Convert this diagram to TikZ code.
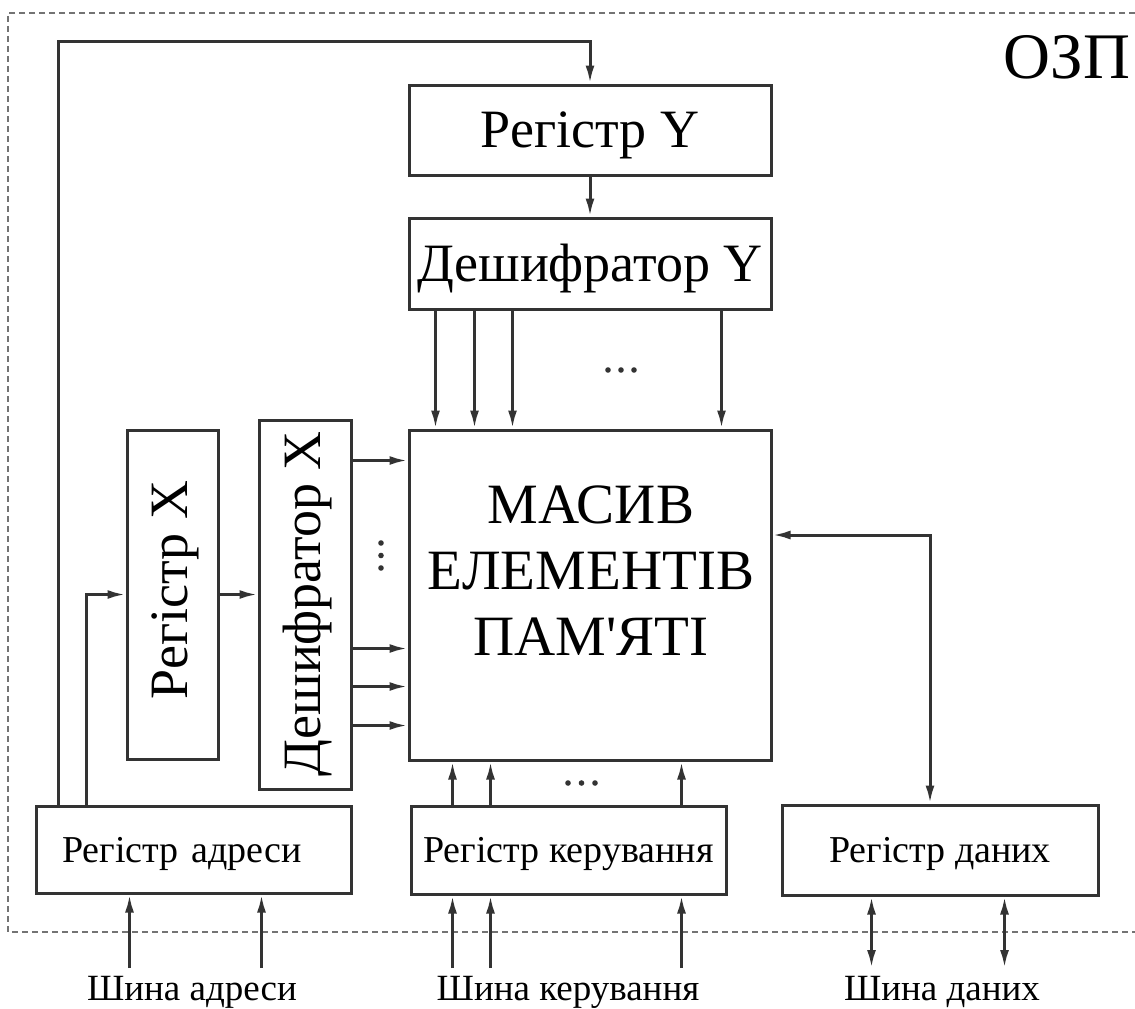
\documentclass[tikz,border=0pt]{standalone}
\usepackage{fontspec}
\setmainfont{Liberation Serif}
\usetikzlibrary{arrows.meta}

\begin{document}
\begin{tikzpicture}[x=1pt, y=-1pt, line width=3pt, color=black!80, text=black,
    box/.style={draw, inner sep=0pt},
    lbl/.style={inner sep=0pt},
    arr/.style={-{Latex[length=18pt, width=9pt]}},
    dblarr/.style={{Latex[length=18pt, width=9pt]}-{Latex[length=18pt, width=9pt]}},
    bigfont/.style={font=\fontsize{54}{60}\selectfont, text height=35.5pt, text depth=0pt},
    midfont/.style={font=\fontsize{38}{42}\selectfont, text height=25pt, text depth=0pt},
    smallfont/.style={font=\fontsize{37}{42}\selectfont, text height=24.5pt, text depth=0pt}]
        \useasboundingbox (0,0) rectangle (1135,1009);

        % Border of the memory unit
        \draw[line width=1.4pt, black!55, dash pattern=on 6pt off 4pt]
            (1135,13) -- (8,13) -- (8,932) -- (1135,932);
        \node[lbl, font=\fontsize{65}{70}\selectfont, text height=43pt, text depth=0pt] (ozp) at (1067,56.5) {ОЗП};

        % Blocks
        \node[box, bigfont, minimum width=362pt, minimum height=90pt] (regY) at (590,130) {Регістр Y};
        \node[box, bigfont, minimum width=362pt, minimum height=91pt] (decY) at (590,263.5) {Дешифратор Y};
        \node[box, minimum width=362pt, minimum height=330pt] (mem) at (590,595) {};
        \node[font=\fontsize{57}{66}\selectfont, align=center] (memtxt) at (591,571)
            {МАСИВ\\ЕЛЕМЕНТІВ\\ПАМ\textquotesingle ЯТІ};
        \node[box, minimum width=91pt, minimum height=329pt] (regX) at (172.5,594.5) {};
        \node[lbl, bigfont, rotate=90] (regXtxt) at (170,590) {Регістр X};
        \node[box, minimum width=92pt, minimum height=369pt] (decX) at (305,604.5) {};
        \node[lbl, bigfont, rotate=90] (decXtxt) at (303,604) {Дешифратор X};
        \node[box, midfont, minimum height=87pt, inner xsep=26pt, text width=263pt, align=left] (regA) at (193.5,849.5) {Регістр адреси};
        \node[box, midfont, minimum width=315pt, minimum height=88pt] (regK) at (568.5,850) {Регістр керування};
        \node[box, midfont, minimum width=316pt, minimum height=90pt] (regD) at (940,850) {Регістр даних};

        % Bus labels
        \coordinate (bus) at (0,968);
        \node[lbl, smallfont] (busA) at (192,988.5) {Шина адреси};
        \node[lbl, smallfont] (busK) at (568,988.5) {Шина керування};
        \node[lbl, smallfont] (busD) at (942,988.5) {Шина даних};

        % Address register to register Y
        \coordinate (fbtop) at (58,41);
        \draw[arr] (regA.north -| fbtop) -- (fbtop) -| (regY.north);
        \draw[arr] (regY) -- (decY);

        % Decoder Y outputs
        \foreach \dx in {28,67,105,314}
            \draw[arr] ([xshift=\dx pt]decY.south west) -- ([xshift=\dx pt]mem.north west);

        % Address register to register X, decoder X outputs
        \draw[arr] ([xshift=52pt]regA.north west) |- (regX.west);
        \draw[arr] (regX.east) -- (regX.east -| decX.west);
        \foreach \dy in {32,220,258,297} {
            \coordinate (xin) at ([yshift=-\dy pt]mem.north west);
            \draw[arr] (decX.east |- xin) -- (xin);
        }

        % Control register
        \foreach \dx in {43,81,272} {
            \coordinate (kout) at ([xshift=\dx pt]regK.north west);
            \draw[arr] (kout) -- (kout |- mem.south);
            \draw[arr] (kout |- bus) -- (kout |- regK.south);
        }

        % Address bus
        \foreach \dx in {95,227} {
            \coordinate (ain) at ([xshift=\dx pt]regA.south west);
            \draw[arr] (ain |- bus) -- (ain);
        }

        % Data register and data bus
        \coordinate (dcorner) at (930,535);
        \draw[dblarr] (dcorner -| mem.east) -- (dcorner) -- (dcorner |- regD.north);
        \foreach \dx in {91,224} {
            \coordinate (din) at ([xshift=\dx pt]regD.south west);
            \draw[dblarr] (din |- bus) -- (din);
        }

        % Dots
        \foreach \i in {0,1,2} {
            \fill (608+13*\i,370) circle (2.8pt);
            \fill (568+13.5*\i,783) circle (2.8pt);
            \fill (381,543+12.5*\i) circle (2.8pt);
        }

    \end{tikzpicture}
\end{document}
